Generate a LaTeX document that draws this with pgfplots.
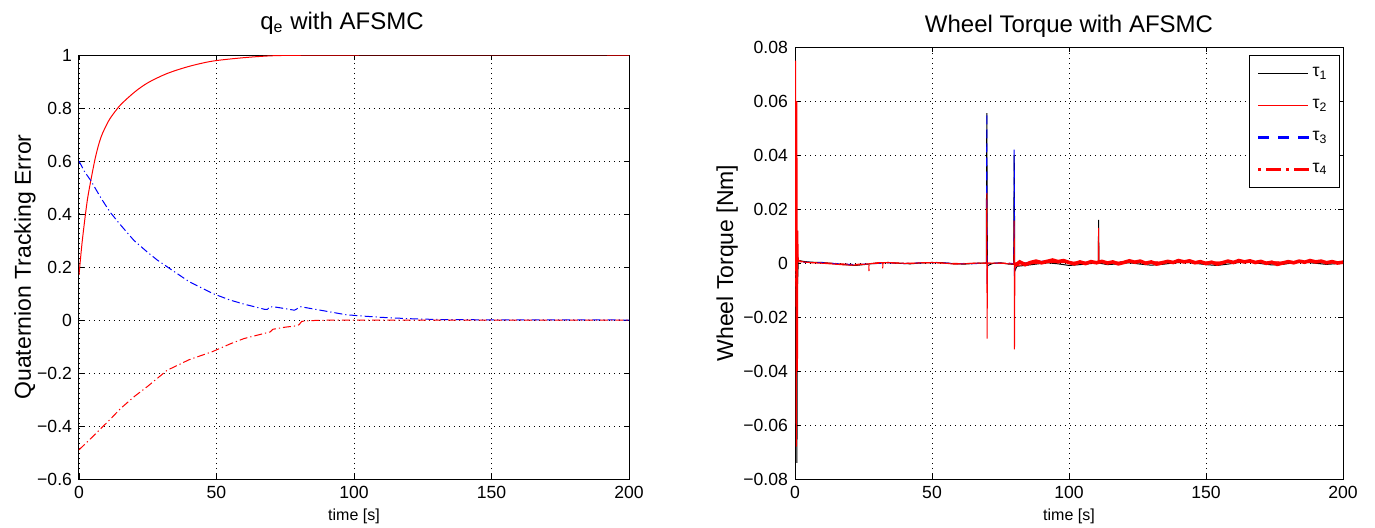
\documentclass[border=0pt]{standalone}
\usepackage{fontspec}
\setmainfont{Liberation Sans}
\usepackage{pgfplots}
\pgfplotsset{compat=1.18}

\pgfplotsset{
  matlab/.style={
    scale only axis,
    axis line style={line width=0.5pt},
    tick align=inside,
    major tick length=2.5pt,
    tick style={black, line width=0.4pt},
    grid=major,
    grid style={black, line width=0.4pt, dash pattern=on 0.5pt off 2pt},
    ticklabel style={font=\fontsize{8.8}{10}\selectfont},
    xlabel style={font=\fontsize{8}{10}\selectfont, at={(axis description cs:0.5,0)}, anchor=base, yshift=-20.5pt},
    ylabel style={font=\fontsize{11.5}{13}\selectfont, at={(axis description cs:0,0.5)}, anchor=base},
    title style={font=\fontsize{12}{14}\selectfont, at={(axis description cs:0.5,1)}, anchor=base},
    xmin=0, xmax=200,
    xtick={0,50,100,150,200},
    xticklabels={0,50,100,150,200},
    scaled ticks=false,
    every axis plot/.append style={line width=0.5pt},
  },
  dashdot/.style={dash pattern=on 4pt off 1.5pt on 0.6pt off 1.5pt},
}

\begin{document}
\begin{tikzpicture}
\path[use as bounding box] (-39.5pt,-24pt) rectangle (648pt,239.5pt);

% left: quaternion error
\begin{axis}[matlab,
  at={(0,0)}, anchor=south west,
  width=275pt, height=212pt,
  ymin=-0.6, ymax=1,
  ytick={-0.6,-0.4,-0.2,0,0.2,0.4,0.6,0.8,1},
  yticklabels={−0.6,−0.4,−0.2,0,0.2,0.4,0.6,0.8,1},
  xlabel={time [s]},
  ylabel={Quaternion Tracking Error},
  ylabel style={yshift=24pt},
  title={q\textsubscript{e} with AFSMC},
  title style={yshift=7pt, xshift=-6pt},
]
\addplot[red, smooth] coordinates {
(0,0.17) (1,0.28) (2,0.37) (3,0.45) (4,0.51) (6,0.615) (8,0.69) (10.7,0.75)
(13,0.785) (15.4,0.815) (20.2,0.86) (25,0.895) (32,0.93) (40,0.957) (48.6,0.977)
(60,0.99) (70,0.997) (80,0.999) (100,1.0) (200,1.0)
};
\addplot[blue, dashdot] coordinates {
(0,0.60) (2,0.56) (4.3,0.526) (8,0.46) (11.3,0.407) (15,0.36) (20,0.30) (25,0.255)
(28.5,0.226) (35,0.18) (40,0.145) (48.6,0.10) (55,0.075) (60,0.06) (67.6,0.04)
(68.5,0.04) (69.4,0.05) (72,0.048) (78.3,0.037) (80.7,0.05) (85,0.042) (90,0.033)
(97,0.02) (103,0.015) (110,0.01) (120,0.005) (130,0.002) (150,0.0005) (200,0)
};
\addplot[red, dashdot] coordinates {
(0,-0.49) (5,-0.44) (11.8,-0.37) (15,-0.335) (20.2,-0.288) (25,-0.25) (32,-0.19)
(40,-0.15) (48.6,-0.119) (55,-0.09) (60,-0.07) (67.6,-0.05) (69.5,-0.045)
(70.5,-0.035) (75,-0.027) (78.3,-0.023) (80,-0.018) (81,-0.005) (85,-0.002)
(90,-0.0008) (100,-0.0002) (200,0)
};
\end{axis}

% right: wheel torque
\begin{axis}[matlab,
  at={(358pt,0)}, anchor=south west,
  width=274pt, height=216pt,
  ymin=-0.08, ymax=0.08,
  ytick={-0.08,-0.06,-0.04,-0.02,0,0.02,0.04,0.06,0.08},
  yticklabels={−0.08,−0.06,−0.04,−0.02,0,0.02,0.04,0.06,0.08},
  xlabel={time [s]},
  ylabel={Wheel Torque [Nm]},
  ylabel style={yshift=31pt},
  title={Wheel Torque with AFSMC},
  title style={yshift=1.5pt},
  legend style={at={(1,1)}, anchor=north east, xshift=-1.5pt, yshift=-4pt,
    font=\fontsize{8.8}{10}\selectfont, draw=black, line width=0.5pt,
    inner xsep=4pt, inner ysep=4pt, row sep=5.8pt},
  legend cell align=left,
  legend image code/.code={\draw[#1] (0pt,0pt) -- (25pt,0pt);},
]
\addplot[black, forget plot] coordinates {
(0,0) (0.3,0.005) (0.45,0.011) (0.7,-0.074) (0.9,-0.008) (1.2,0.001) (3,0.0006)
(6,0.0003) (10,0.0002) (14,-0.0002) (18,-0.0006) (22,-0.0009) (26,-0.0005) (30,0)
(34,0.0002) (38,-0.0001) (42,-0.0003) (46,0) (50,0.0002) (54,0.0001) (58,-0.0003)
(62,-0.0004) (66,-0.0001) (69.8,0) (70,0.0555) (70.2,-0.001) (72,-0.0002)
(75,0.0001) (78,-0.0004) (79.8,-0.0005) (80,0.040) (80.2,-0.003) (81,-0.0012)
(84,-0.0009) (88,-0.0004) (92,0.0001) (96,-0.0003) (100,-0.0009) (104,-0.0006)
(108,-0.0002) (110.7,0) (110.8,0.016) (110.9,0) (114,-0.0006) (118,-0.0003)
(122,0.0001) (126,-0.0004) (130,-0.0008) (134,-0.0005) (138,0) (142,0.0003)
(146,-0.0001) (150,-0.0006) (154,-0.0009) (158,-0.0004) (162,0.0002) (166,0.0004)
(170,-0.0002) (174,-0.0007) (178,-0.0005) (182,0.0001) (186,0.0003) (190,-0.0001)
(194,-0.0005) (198,-0.0002) (200,0)
};
\addplot[blue, dash pattern=on 4pt off 3pt, forget plot] coordinates {
(0,0) (0.3,0.054) (0.5,0.02) (0.65,-0.024) (0.85,0.004) (1.2,0) (4,0.0003)
(10,0.0001) (16,-0.0003) (22,-0.0006) (28,-0.0003) (34,0.0001) (40,-0.0002)
(46,0.0001) (52,0.0002) (58,-0.0002) (64,-0.0003) (69.9,0) (70,0.0556)
(70.1,-0.0077) (70.3,0) (76,-0.0001) (79.9,-0.0002) (80,0.042) (80.1,-0.005)
(80.3,-0.0005) (86,0.0003) (92,0.0008) (98,0.0004) (104,0.0001) (110,0.0005)
(116,0.0002) (122,0.0006) (128,0.0001) (134,0.0004) (140,0.0008) (146,0.0003)
(152,-0.0002) (158,0.0005) (164,0.0007) (170,0.0002) (176,-0.0003) (182,0.0004)
(188,0.0006) (194,0.0002) (200,0.0004)
};
\addplot[red, forget plot] coordinates {
(0,0) (0.15,0.04) (0.25,0.075) (0.32,0.02) (0.4,-0.05) (0.5,-0.068) (0.6,0.03)
(0.7,0.06) (0.8,-0.02) (0.9,-0.04) (1.0,0.012) (1.2,0.001) (3,0.0004)
(6,0.0001) (10,-0.0001) (14,-0.0004) (18,-0.0007) (22,-0.0008) (26,-0.0004)
(30,0.0001) (34,0.0002) (38,0) (42,-0.0002) (46,0.0001) (50,0.0002) (54,0)
(58,-0.0004) (62,-0.0003) (66,0) (69.9,0) (70,0.026) (70.1,-0.028) (70.25,0)
(74,0) (78,-0.0003) (79.9,-0.0004) (80,0.0157) (80.1,-0.032) (80.25,-0.001)
(90,0.0001) (100,0.0002) (110.7,0.0003) (110.8,0.013) (110.9,0.0003) (130,0.0003)
(160,0.0003) (200,0.0003)
};
\addplot[red, dashdot, forget plot] coordinates {
(0,0) (0.4,-0.01) (0.6,0.005) (1,0.0005) (5,0.0002) (12,0) (20,-0.0005)
(26.9,-0.0004) (27,-0.003) (27.1,-0.0003) (31.9,0) (32,-0.002) (32.1,0)
(40,-0.0001) (50,0.0001) (60,-0.0002) (70,0) (80,0) (90,0.0004) (100,0.0003)
(120,0.0002) (140,0.0005) (160,0.0003) (180,0.0004) (200,0.0002)
};
\addplot[red, line width=1.8pt, forget plot] coordinates {
(80.3,-0.001) (82,0.0004) (84,-0.0006) (86,0.0002) (88,0.0007) (90,0.0001)
(92,0.0006) (94,0.0011) (96,0.0005) (98,0.0009) (100,0.0002) (102,-0.0003)
(104,0.0004) (106,-0.0002) (108,0.0005) (110,0.0001) (112,0.0006) (114,0)
(116,0.0004) (118,-0.0003) (120,0.0002) (122,0.0008) (124,0.0003) (126,0.0007)
(128,-0.0001) (130,0.0004) (132,-0.0004) (134,0.0001) (136,0.0006) (138,0.0002)
(140,0.0009) (142,0.0004) (144,0.0008) (146,0.0001) (148,0.0005) (150,-0.0002)
(152,0.0003) (154,-0.0004) (156,0.0001) (158,0.0007) (160,0.0002) (162,0.0009)
(164,0.0004) (166,0.0008) (168,0.0002) (170,0.0006) (172,-0.0001) (174,0.0003)
(176,-0.0005) (178,0) (180,0.0005) (182,0.0001) (184,0.0007) (186,0.0003)
(188,0.0009) (190,0.0004) (192,0.0007) (194,0.0001) (196,0.0005) (198,0)
(200,0.0003)
};
\addlegendimage{draw=black, line width=0.5pt}
\addlegendentry{τ\textsubscript{1}}
\addlegendimage{draw=red, line width=0.5pt}
\addlegendentry{τ\textsubscript{2}}
\addlegendimage{legend image code/.code={%
  \fill[blue] (0pt,-0.4pt) rectangle (5pt,0.4pt) (10pt,-0.4pt) rectangle (15pt,0.4pt)
    (20pt,-0.4pt) rectangle (25pt,0.4pt);}}
\addlegendentry{τ\textsubscript{3}}
\addlegendimage{legend image code/.code={%
  \fill[red] (0pt,-0.4pt) rectangle (1pt,0.4pt) (4pt,-0.4pt) rectangle (11pt,0.4pt)
    (14pt,-0.4pt) rectangle (15pt,0.4pt) (18pt,-0.4pt) rectangle (25pt,0.4pt);}}
\addlegendentry{τ\textsubscript{4}}
\end{axis}
\end{tikzpicture}
\end{document}
